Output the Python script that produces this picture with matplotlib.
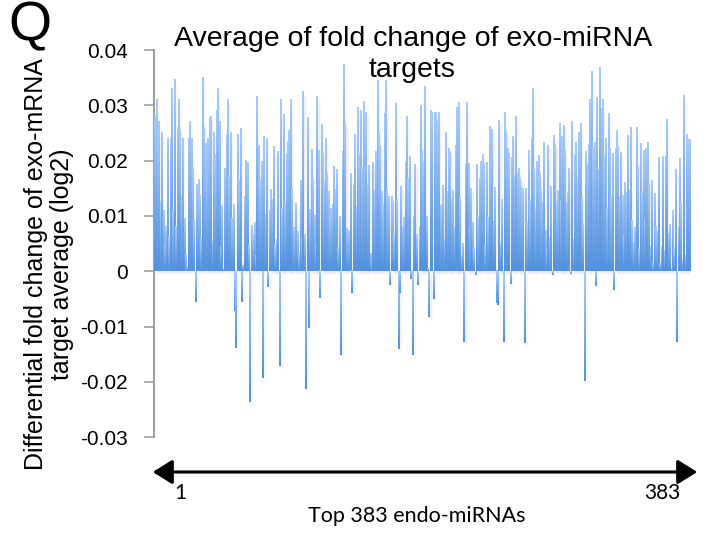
import numpy as np
import matplotlib
matplotlib.use('Agg')
import matplotlib.pyplot as plt
from matplotlib.colors import LinearSegmentedColormap
import matplotlib.transforms as mtransforms

# ---- data (bars 1..383) ----
values_a = [0.028, 0.031, 0.025, 0.027, 0.0126, 0.025, 0.011, 0.005, 0.008, 0.024,
            0.006, 0.024, 0.033, 0.011, 0.0346, 0.008, 0.026, 0.031, 0.0255, 0.0137,
            0.024, 0.0095, 0.003, 0.0008, 0.024, 0.027, 0.024, 0.0185, 0.0093, -0.0056,
            0.0156, 0.0165, 0.0137, 0.006, 0.035, 0.026, 0.023, 0.018, 0.024, 0.0275,
            0.028, 0.0054, 0.025, 0.021, 0.029, 0.033, 0.027, 0.0045, 0.0118, 0.0002,
            0.0186, 0.0246, 0.031, 0.017, 0.025, 0.0095, 0.012, -0.0071, -0.0139, 0.0246,
            0.0165, 0.0257]
values_b = [-0.0056, 0.001, 0.0135, 0.020, 0.0196, 0.0046, -0.0236, 0.0082, 0.0066, 0.0087,
            0.0028, 0.0315, 0.0226, 0.0165, 0.0198, -0.0192, 0.0243, 0.0103, 0.024, -0.0028,
            0.011, 0.0147, 0.013, 0.0225, 0.0046, 0.0057, 0.0216, -0.0172, 0.031, 0.0113,
            0.0283, 0.0124, 0.0212, 0.0234, 0.0254, 0.031, 0.0149, 0.0079, 0.0064, 0.0122,
            0.0072, 0.0031, 0.0164, 0.0061, 0.0324, 0.0066, -0.0213, 0.0277, -0.0102, 0.0111,
            0.0219, 0.0166, 0.01, 0.0049, 0.0315, 0.0217, -0.0049, 0.0264, 0.0212, 0.016,
            0.0239, 0.0178, 0.0144]
values_c = [0.0099, 0.0113, 0.012, 0.0188, 0.0147, 0.0183, 0.0042, 0.0099, -0.0152, 0.0216,
            0.0373, 0.0267, 0.0077, 0.0073, 0.0072, 0.0176, -0.004, 0.0154, 0.0246, 0.0116,
            0.0295, 0.0212, 0.029, 0.0189, 0.0306, 0.0188, 0.0287, 0.0156, 0.019, 0.0031,
            0.0014, 0.0196, 0.0146, 0.0216, 0.0344, 0.0252, 0.0227, 0.0144, 0.0122, 0.0284,
            0.0344, 0.0145, 0.0135, -0.0024, 0.0134, 0.0125, 0.0066, 0.0302, 0.0129, -0.014,
            -0.004, 0.0152, 0.008, 0.0096, 0.0196, 0.0279, 0.0167, 0.0207, -0.0014, -0.0152,
            0.0099, 0.0192, 0.0066, -0.0024, 0.0078]
values_d = [0.030, 0.0217, 0.0197, 0.0333, 0.0099, 0.0005, -0.0082, 0.029, 0.0286, -0.005,
            0.0286, 0.0287, 0.027, 0.0286, 0.0119, 0.012, 0.0154, 0.0057, 0.0251, 0.0143,
            0.0221, 0.0216, 0.0131, 0.0146, 0.0079, 0.0227, 0.0295, 0.0304, 0.0132, 0.0027,
            0.005, -0.0127, 0.0192, 0.0304, 0.0195, 0.0079, 0.015, 0.0087, 0.004, -0.0007,
            0.0192, 0.0098, 0.0168, 0.0198, 0.021, 0.0195, 0.0046, 0.0196, 0.0096, 0.0261,
            0.0208, 0.0256, 0.009, 0.0151, -0.0058, -0.006, 0.0272, 0.0048, 0.0129, -0.0127,
            0.0286, 0.0252, 0.0221, 0.0213, -0.0023]
values_e = [0.0205, 0.0243, 0.0171, 0.0279, 0.0177, 0.0185, 0.0169, 0.0151, 0.015, -0.0129,
            0.015, 0.0087, 0.0217, 0.013, 0.0239, 0.033, 0.0186, 0.0111, 0.0198, 0.0208,
            0.0177, 0.0147, 0.0124, 0.0233, 0.0073, 0.004, 0.0226, 0.0061, 0.0152, -0.0007,
            0.0245, 0.0228, 0.0126, 0.0145, 0.0267, 0.0128, 0.0243, 0.0263, 0.0217, 0.0123,
            0.0142, 0.0185, -0.0004, 0.027, 0.0057, 0.021, 0.0233, 0.0165, 0.025, 0.0267,
            0.0132, 0.0085, -0.0198, 0.0216, 0.0192, 0.0228, 0.031, 0.036, 0.0223, 0.0232,
            -0.0027, 0.0313, 0.0183, 0.0367, 0.0294]
values_f = [0.031, 0.021, 0.0239, 0.0114, 0.0284, 0.0222, 0.0132, 0.0212, -0.0033, 0.0222,
            0.0254, 0.0225, 0.0132, 0.0215, 0.0136, 0.0064, 0.016, 0.0141, 0.0245, 0.0145,
            0.0259, 0.0091, 0.0052, 0.0078, 0.0259, 0.0189, 0.0039, 0.023, 0.0144, 0.0217,
            0.0093, 0.0221, 0.0232, 0.0156, 0.0045, 0.0163, 0.0014, 0.014, 0.008, 0.0072,
            0.0205, 0.0013, 0.0045, 0.0207, 0.0037, 0.0207, 0.0273, 0.0067, 0.0084, 0.0005,
            0.011, 0.0043, 0.0183, -0.0127, 0.0079, 0.0203, 0.0122, 0.0019, 0.0317, 0.0028,
            0.0246, 0.0237, 0.0237]

values = values_a + values_b + values_c + values_d + values_e + values_f
positions = np.arange(len(values))

yticks = [0.04, 0.03, 0.02, 0.01, 0.0, -0.01, -0.02, -0.03]
ytick_labels = ['0.04', '0.03', '0.02', '0.01', '0', '-0.01', '-0.02', '-0.03']
title_lines = ['Average of fold change of exo-miRNA', 'targets']
ylabel = 'Differential fold change of exo-mRNA\ntarget average (log2)'
xlabel = 'Top 383 endo-miRNAs'
first_label, last_label = '1', '383'

W, H = 714, 534
fig = plt.figure(figsize=(W / 100, H / 100), dpi=100)
ax = fig.add_axes([154 / W, 1 - 437.3 / H, (690 - 154) / W, (437.3 - 50) / H])

# soft shadow
for dx, dy, a in [(2, -3, 0.06), (3, -4, 0.05), (1, -2, 0.05)]:
    tr = mtransforms.offset_copy(ax.transData, fig=fig, x=dx, y=dy, units='dots')
    ax.bar(positions, values, width=0.8, color='#808080', alpha=a,
           linewidth=0, transform=tr, zorder=1)

bars = ax.bar(positions, values, width=0.8, color='#7aaee8', linewidth=0, zorder=2)

cmap = LinearSegmentedColormap.from_list('g', ['#a9cbfa', '#5392dd'])
grad = np.linspace(0, 1, 64).reshape(-1, 1)
for b in bars:
    x0 = b.get_x()
    x1 = x0 + b.get_width()
    y0 = b.get_y()
    y1 = y0 + b.get_height()
    lo, hi = min(y0, y1), max(y0, y1)
    ax.imshow(grad, cmap=cmap, extent=(x0, x1, lo, hi), origin='upper',
              aspect='auto', interpolation='bilinear', zorder=3)

ax.set_xlim(-0.5, len(values) - 0.5)
ax.set_ylim(-0.03, 0.04)
ax.set_yticks(yticks)
ax.set_yticklabels(ytick_labels, family='Liberation Sans', fontsize=15)
ax.tick_params(axis='y', direction='out', length=7, width=1.2, color='#a0a0a0', pad=12)
ax.set_xticks([])
for s in ['top', 'right', 'bottom']:
    ax.spines[s].set_visible(False)
ax.spines['left'].set_color('#a0a0a0')
ax.spines['left'].set_linewidth(1.5)
ax.set_facecolor('none')

fig.text(413 / W, 1 - 46 / H, title_lines[0], ha='center', va='baseline',
         family='Liberation Sans', fontsize=20.5)
fig.text(412 / W, 1 - 77 / H, title_lines[1], ha='center', va='baseline',
         family='Liberation Sans', fontsize=20.5)
fig.text(49 / W, 1 - 264 / H, ylabel, rotation=90, ha='center', va='center',
         family='Liberation Sans', fontsize=18, linespacing=1.15)
fig.text(30 / W, 1 - 26 / H, 'Q', ha='center', va='center',
         family='Liberation Sans', fontsize=40)

# double-headed arrow under the axis
fig.add_artist(matplotlib.patches.FancyArrowPatch(
    (150 / W, 1 - 472 / H), (700 / W, 1 - 472 / H), transform=fig.transFigure,
    arrowstyle='<|-|>,head_length=8,head_width=5', color='black', lw=2.2,
    mutation_scale=1.5))
fig.text(180 / W, 1 - 493 / H, first_label, ha='center', va='center',
         family='Lato', fontsize=15)
fig.text(662 / W, 1 - 493 / H, last_label, ha='center', va='center',
         family='Lato', fontsize=15)
fig.text(417 / W, 1 - 516 / H, xlabel, ha='center', va='center',
         family='Lato', fontsize=15.5)

fig.savefig('out.png', dpi=100)
